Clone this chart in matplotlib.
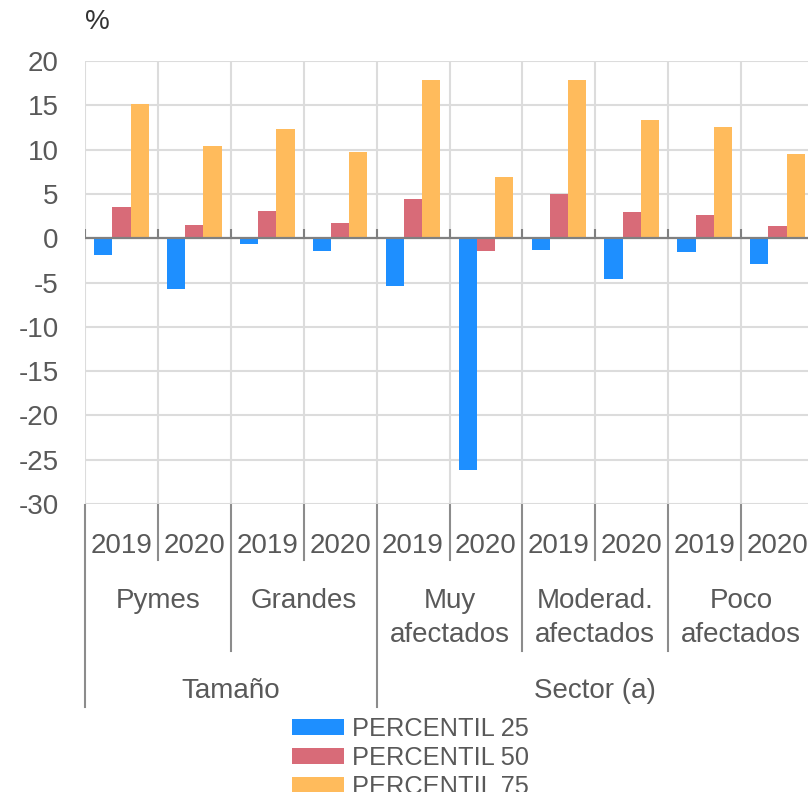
import matplotlib.pyplot as plt
import numpy as np
from matplotlib.transforms import blended_transform_factory

plt.rcParams['font.family'] = ['Liberation Sans', 'DejaVu Sans']
plt.rcParams['axes.unicode_minus'] = False

# Datos
anios = ['2019', '2020'] * 5
grupos = [['Pymes'], ['Grandes'], ['Muy', 'afectados'],
          ['Moderad.', 'afectados'], ['Poco', 'afectados']]
bloques = ['Tamaño', 'Sector (a)']
p25 = [-1.9, -5.7, -0.6, -1.5, -5.4, -26.2, -1.3, -4.6, -1.6, -2.9]
p50 = [3.5, 1.5, 3.05, 1.7, 4.4, -1.5, 5.0, 2.95, 2.6, 1.4]
p75 = [15.2, 10.4, 12.3, 9.7, 17.9, 6.9, 17.9, 13.3, 12.5, 9.5]
series = ['PERCENTIL 25', 'PERCENTIL 50', 'PERCENTIL 75']
colores = ['#1E8FFF', '#D86B78', '#FFBB5C']

gris_txt = '#595959'
W, H = 808, 792


def fy(px):
    return 1 - px / H


fig = plt.figure(figsize=(W / 100, H / 100), dpi=100)
ax = fig.add_axes([85 / W, fy(504), 729 / W, (504 - 61) / H])

x = np.arange(len(anios))
ancho = 0.25
barras = []
for k, vals in enumerate([p25, p50, p75]):
    b = ax.bar(x + (k - 1) * ancho, vals, ancho, color=colores[k],
               label=series[k], zorder=3, linewidth=0)
    barras.append(b)

ax.set_xlim(-0.5, len(anios) - 0.5)
ax.set_ylim(-30, 20)
ax.set_yticks(range(-30, 21, 5))
limites = np.arange(-0.5, len(anios), 1)
ax.set_xticks(limites)
ax.set_xticklabels([])
ax.tick_params(axis='both', length=0, colors=gris_txt, labelsize=20)
ax.tick_params(axis='y', pad=19)
ax.grid(True, color='#dcdcdc', linewidth=1.5, zorder=0)
for s in ax.spines.values():
    s.set_visible(False)

# línea del cero y marcas pequeñas
ax.axhline(0, color='#808080', linewidth=1.6, zorder=4)
ax.vlines(limites, 0, 1.0, color='#808080', linewidth=1.5, zorder=4)

fig.text(85 / W, fy(22), '%', fontsize=20, color='#333333',
         ha='left', va='center')

# etiquetas jerárquicas del eje X
tr = blended_transform_factory(ax.transData, fig.transFigure)
for i, a in enumerate(anios):
    ax.text(i, fy(553), a, transform=tr, ha='center', va='baseline',
            fontsize=20, color=gris_txt)
for g, lineas in enumerate(grupos):
    for j, t in enumerate(lineas):
        ax.text(2 * g + 0.5, fy(608 + 34 * j), t, transform=tr, ha='center',
                va='baseline', fontsize=20, color=gris_txt)
ax.text(1.5, fy(698), bloques[0], transform=tr, ha='center', va='baseline',
        fontsize=20, color=gris_txt)
ax.text(6.5, fy(698), bloques[1], transform=tr, ha='center', va='baseline',
        fontsize=20, color=gris_txt)

for b in limites:
    if b in (-0.5, 3.5, 9.5):
        fin = 707
    elif b in (1.5, 5.5, 7.5):
        fin = 651
    else:
        fin = 560
    ax.plot([b, b], [fy(505), fy(fin)], transform=tr, clip_on=False,
            color='#8c8c8c', linewidth=1.5)

ax.legend(handles=barras, loc='upper left',
          bbox_to_anchor=(292 / W, fy(717)), bbox_transform=fig.transFigure,
          frameon=False, fontsize=18.3, labelcolor=gris_txt,
          handlelength=2.05, handleheight=0.6, handletextpad=0.3,
          labelspacing=0.19, borderpad=0, borderaxespad=0)

fig.savefig('out.png', dpi=100)
